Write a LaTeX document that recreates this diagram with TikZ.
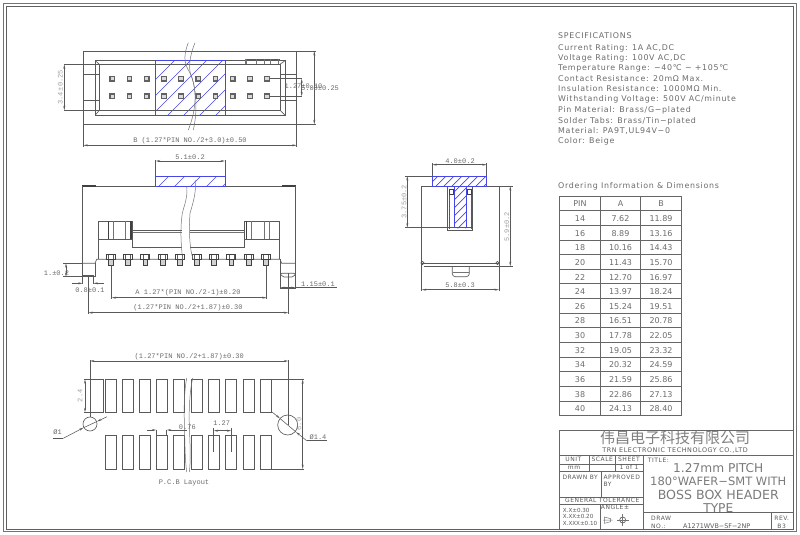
\documentclass[tikz,border=0pt]{standalone}
\usepackage{fontspec}
\usetikzlibrary{arrows.meta}
\newfontfamily\dimf{Liberation Mono}
\newfontfamily\specf{DejaVu Sans}
\newfontfamily\specw[LetterSpace=9]{DejaVu Sans}
\newfontfamily\cjkf{Noto Sans CJK SC}
\definecolor{hatchblue}{RGB}{70,70,230}
\tikzset{
  ln/.style={line width=0.65pt,draw=black!65},
  thin ln/.style={line width=0.5pt,draw=black!55},
  thick ln/.style={line width=1.1pt,draw=black!75},
  dimn/.style={line width=0.55pt,draw=black!65,{Stealth[length=4.5pt,width=2pt]}-{Stealth[length=4.5pt,width=2pt]}},
  tipend/.style={line width=0.55pt,draw=black!65,-{Stealth[length=4.5pt,width=2pt]}},
  ext/.style={line width=0.55pt,draw=black!65},
  hatch/.style={line width=0.7pt,draw=hatchblue},
  bluebox/.style={line width=0.9pt,draw=hatchblue},
  dimt/.style={font=\dimf\fontsize{7}{7}\selectfont,text=black!58,inner sep=0pt},
  greyt/.style={font=\dimf\fontsize{7}{7}\selectfont,text=black!38,inner sep=0pt,rotate=90},
  spect/.style={font=\specw\fontsize{7.9}{8}\selectfont,text=black!58,inner sep=0pt,anchor=west},
  tabt/.style={font=\specf\fontsize{8}{8}\selectfont,text=black!58,inner sep=0pt},
  tbsmall/.style={font=\specw\fontsize{6}{6}\selectfont,text=black!65,inner sep=0pt},
  tbbig/.style={font=\specf\fontsize{12.2}{13}\selectfont,text=black!52,inner sep=0pt},
  frameline/.style={line width=1pt,draw=black!62},
  frameouter/.style={line width=1pt,draw=black!55},
  tbl/.style={line width=0.8pt,draw=black!60},
  pintop/.style={draw=black!62,line width=1.2pt,fill=black!15,minimum size=4.6pt,inner sep=0pt},
  padn/.style={line width=0.65pt,draw=black!65}
}
\begin{document}
\begin{tikzpicture}[x=1pt,y=-1pt]
\useasboundingbox (0,0) rectangle (800,535);
% sheet frame
\draw[frameouter] (3,4) rectangle (796.7,531.7);
\draw[frameline] (6,6.5) rectangle (793.3,529);

%%%% TOP VIEW
\begin{scope}
\clip (155.7,60.7) rectangle (225,115);
\foreach \c in {235,251,267,283,299,315,331}
  \draw[hatch] ({\c-50},50) -- ({\c-130},130);
\end{scope}
\draw[ln] (83.3,51) rectangle (296.7,124.3);
\draw[ln] (95.3,60.7) rectangle (285,115);
\draw[ln] (99.3,64.3) rectangle (280,110.3);
\draw[bluebox] (155.7,60.7) rectangle (225,115);
\draw[ln] (95.3,60.7) -- (99.3,64.3) (285,60.7) -- (280,64.3) (95.3,115) -- (99.3,110.3) (285,115) -- (280,110.3);
\draw[ln] (84,74.3) -- (99.3,74.3) (84,100) -- (99.3,100);
\draw[ln] (280,74.3) -- (296.7,74.3) (280,100) -- (296.7,100);
\draw[ln] (245,59) -- (280,59);
\foreach \xx in {245,246.7,256.7,264,270.7,278.3}
  \draw[thin ln] (\xx,59) -- (\xx,64.3);
\foreach \i in {0,...,9}{
  \node[pintop] (pa\i) at ({112.3+17.2*\i},78.7) {};
  \node[pintop] (pb\i) at ({112.3+17.2*\i},96.3) {};
}
\draw[thin ln] (188.3,42.7) .. controls (184,54) and (183,62) .. (190,73) .. controls (197,88) and (197,108) .. (188.3,130);
\draw[thin ln] (195,42.7) .. controls (190,55) and (188,68) .. (191,75) .. controls (196,88) and (198,110) .. (193.3,130);
% top view dims
\draw[ext] (64.3,64.3) -- (99.3,64.3) (64.3,110.3) -- (143,110.3);
\draw[dimn] (64.3,64.3) -- (64.3,110.3);
\node[greyt] (t34) at (60.3,87.5) {3.4$\,$±0.25};
\draw[ext] (270,78.7) -- (302,78.7) (270,96.3) -- (302,96.3);
\draw[dimn] (301.7,78.7) -- (301.7,96.3);
\draw[ext] (296.7,51) -- (316,51) (296.7,124.3) -- (316,124.3);
\draw[dimn] (314.3,51) -- (314.3,124.3);
\node[dimt] (t127) at (303.5,86) {1.27±0.10};
\node[dimt] (t508) at (320,88.5) {5.08±0.25};
\draw[ext] (83.3,124.3) -- (83.3,147) (296.7,124.3) -- (296.7,147);
\draw[dimn] (83.3,145.3) -- (296.7,145.3);
\node[dimt] (tb) at (190,140.5) {B  (1.27*PIN NO./2+3.0)±0.50};

%%%% FRONT VIEW
\draw[ext] (155.7,160) -- (155.7,177) (225,160) -- (225,177);
\draw[dimn] (155.7,161) -- (225,161);
\node[dimt] (t51) at (190,157) {5.1±0.2};
\begin{scope}
\clip (155.7,176.7) rectangle (225,186.7);
\foreach \c in {345,361,377,393,409}
  \draw[hatch] ({\c-160},160) -- ({\c-200},200);
\end{scope}
\draw[bluebox] (155.7,176.7) rectangle (225,186.7);
\draw[ln] (82.3,186) -- (155.7,186) (225,186) -- (295.7,186);
\draw[thick ln] (82.3,186) -- (96,186) (281.7,186) -- (295.7,186);
\draw[ln] (82.3,186) -- (82.3,283);
\draw[ln] (295.7,186) -- (295.7,288);
% left foot
\draw[ln] (82.3,263.3) -- (95,263.3) -- (96.7,259.3) -- (182,259.3);
\draw[ln] (193,259.3) -- (280,259.3) -- (281.7,263.3) -- (295.7,263.3);
\draw[ln] (95,263.3) -- (95,276.7) -- (82.3,276.7);
\draw[ln] (83,275) -- (93,275);
% right tab
\draw[ln] (280,259.3) -- (280,288) -- (295.7,288);
\draw[ln,rounded corners=2pt] (280,273.3) -- (295.7,273.3) -- (294,277) -- (282,277) -- cycle;
% upper blocks
\draw[ln] (98.3,259.3) -- (98.3,221.3) -- (132.7,221.3) -- (132.7,247.7) -- (181.7,247.7);
\draw[ln] (190,247.7) -- (244,247.7) -- (244,221.3) -- (279.3,221.3) -- (279.3,259.3);
\draw[ln] (98.3,239.3) -- (132.7,239.3) (244,239.3) -- (279.3,239.3);
\foreach \xx in {113.3,125.7,251.7,269.3,264}
  \draw[thin ln] (\xx,221.3) -- (\xx,239.3);
\foreach \xx in {108.3,131,246.7}
  \draw[thick ln] (\xx,221.3) -- (\xx,239.3);
\draw[ln] (132.7,230) -- (181.7,230) (190,230) -- (244,230);
\draw[thin ln] (132.7,232) -- (181.7,232) (190,232) -- (244,232);
\foreach \i in {0,...,9}{
  \pgfmathsetmacro{\px}{111+17.2*\i}
  \draw[thick ln,line width=0.9pt,fill=white] (\px-4.5,254) rectangle (\px+4.5,259.5);
  \draw[thick ln,line width=1pt,fill=black!18] (\px-2.4,259.5) rectangle (\px+2.4,265);
  \draw[ln] (\px-2.5,254.5) -- (\px-2.5,259) (\px+2.5,254.5) -- (\px+2.5,259);
}
\draw[thin ln] (186.7,186.7) .. controls (188,197) and (184,206) .. (182.3,213.3) .. controls (180,228) and (181,245) .. (182.7,260);
\draw[thin ln] (195,180) .. controls (197,192) and (192,206) .. (190,213.3) .. controls (189,228) and (189,247) .. (193.3,260);
% front dims
\draw[ext] (63.3,263.3) -- (82.3,263.3) (63.3,276.7) -- (95,276.7);
\draw[dimn] (66,263.3) -- (66,276.7);
\node[dimt] (t1) at (56.5,272.7) {1.±0.2};
\draw[ext] (82.7,275) -- (82.7,283.5) (93.3,275) -- (93.3,283.5);
\draw[tipend] (71.7,283.3) -- (82.7,283.3);
\draw[tipend] (104,283.3) -- (93.3,283.3);
\node[dimt] (t08) at (90,290) {0.8±0.1};
\draw[dimn] (280,287.7) -- (295.7,287.7);
\draw[ext] (295.7,287.7) -- (336.7,287.7);
\node[dimt] (t115) at (318,284) {1.15±0.1};
\draw[ext] (111.7,265) -- (111.7,299) (266.7,265) -- (266.7,299);
\draw[dimn] (111.7,297.7) -- (266.7,297.7);
\node[dimt] (ta) at (188,293) {A  1.27*(PIN NO./2-1)±0.20};
\draw[ext] (88.3,275) -- (88.3,314) (288.3,273) -- (288.3,314);
\draw[dimn] (88.3,312.7) -- (288.3,312.7);
\node[dimt] (tc) at (188,308) {(1.27*PIN NO./2+1.87)±0.30};

%%%% PCB LAYOUT
\draw[dimn] (90,361) -- (288.3,361);
\node[dimt] (td) at (189.3,356.7) {(1.27*PIN NO./2+1.87)±0.30};
\draw[ext] (90,360) -- (90,417) (288.3,360) -- (288.3,425);
\foreach \i in {0,...,9}{
  \pgfmathsetmacro{\px}{105.3+17.1*\i+(\i>4?0.8:0)}
  \draw[padn] (\px,379.3) rectangle (\px+11,412.3);
  \draw[padn] (\px,435.7) rectangle (\px+11,469);
}
\draw[ln] (84.3,379.3) -- (103.3,379.3) -- (103.3,412.3) -- (84.3,412.3);
\draw[ln] (270.7,379.3) -- (304,379.3) (270.7,469) -- (304,469);
\draw[dimn] (85,379.3) -- (85,412.3);
\node[greyt] (t24) at (80,395.7) {2.4};
\draw[dimn] (302.7,379.3) -- (302.7,469);
\node[greyt] (t60) at (299,424) {6.0};
\draw[thin ln] (186.7,378) .. controls (184,392) and (184,410) .. (184.3,420) .. controls (185,445) and (185,460) .. (186.7,472);
\draw[thin ln] (192.7,378) .. controls (189,395) and (189,415) .. (189.3,425) .. controls (190,445) and (191,460) .. (189.3,472);
% holes
\draw[ln] (90,424) circle (7);
\draw[ln] (287.7,425) circle (10);
\draw[ext] (53,438.3) -- (63.3,438.3);
\draw[tipend] (63.3,438.3) -- (83.5,427.7);
\draw[tipend] (107,416.7) -- (97,421.5);
\draw[ext] (83.5,427.7) -- (97,421.5);
\node[dimt] (tp1) at (57.7,432.5) {Ø1};
\draw[ext] (306.7,440.7) -- (326.7,440.7);
\draw[tipend] (306.7,440.7) -- (296,432);
\draw[tipend] (271.7,411.7) -- (280,418.5);
\draw[ext] (280,418.5) -- (296,432);
\node[dimt] (tp14) at (318,437.3) {Ø1.4};
% small dims
\draw[ext] (156.3,430) -- (156.3,435.7) (166.7,430) -- (166.7,435.7);
\draw[tipend] (146.7,430) -- (156.3,430);
\draw[tipend] (186.7,430) -- (166.7,430);
\node[dimt] (t076) at (187.3,427) {0.76};
\draw[ext] (213.7,428) -- (213.7,451.7) (231.3,428) -- (231.3,451.7);
\draw[dimn] (213.7,430.7) -- (231.3,430.7);
\node[dimt] (t127b) at (221.7,423.3) {1.27};
\node[dimt] (tpcb) at (184,483.3) {P.C.B Layout};

%%%% SIDE VIEW
\draw[ext] (432.3,163) -- (432.3,177) (486.7,163) -- (486.7,177);
\draw[dimn] (432.3,164.7) -- (486.7,164.7);
\node[dimt] (t40) at (460,161) {4.0±0.2};
\begin{scope}
\clip (432.3,176) rectangle (486.7,186.7) (454.3,186.7) rectangle (466.7,228.3);
\foreach \c in {590,598,...,726}
  \draw[hatch] ({\c-170},170) -- ({\c-235},235);
\end{scope}
\draw[bluebox] (432.3,176) rectangle (486.7,186.7);
\draw[bluebox] (454.3,186.7) -- (454.3,228.3) (466.7,186.7) -- (466.7,228.3);
\draw[ln] (421.7,186) -- (432.3,186) (486.7,186) -- (499,186) -- (499,263.3);
\draw[ln] (421.7,186) -- (421.7,263.3);
\draw[ln] (447.3,186.7) -- (447.3,230) -- (472.7,230) -- (472.7,186.7);
\draw[bluebox] (449,194) -- (449,229) (471.7,194) -- (471.7,229);
\draw[thick ln,line width=0.9pt] (449.5,189) rectangle (453.5,194) (467,189) rectangle (471,194);
\draw[ln] (447.3,227.7) -- (472.7,227.7);
\draw[ln] (421.7,263.3) -- (499,263.3);
\draw[ln] (424,266.7) -- (497,266.7);
\draw[ln] (421.7,263.3) -- (421.7,291) (499,263.3) -- (499,291);
\draw[ln] (422.5,263) circle (1.6) (497.5,263) circle (1.6);
\draw[ln,rounded corners=3pt] (452.3,266.7) -- (452.3,276.7) -- (469.3,276.7) -- (469.3,266.7);
\draw[thin ln] (453,272.7) -- (469,272.7);
\draw[dimn] (421.7,289.7) -- (499,289.7);
\node[dimt] (t58) at (460,285) {5.8±0.3};
\draw[ext] (405,176) -- (432.3,176) (405,227.7) -- (447.3,227.7);
\draw[dimn] (407.3,176) -- (407.3,227.7);
\node[greyt] (t375) at (404,201.7) {3.75±0.2};
\draw[ext] (499,186) -- (513,186) (472,266.3) -- (513,266.3);
\draw[dimn] (510.3,186) -- (510.3,266.3);
\node[greyt] (t59) at (506.7,226.7) {5.9±0.2};

%%%% SPECIFICATIONS
\node[spect] (s0) at (558,36) {SPECIFICATIONS};
\node[spect] (s1) at (558,48.7) {Current Rating:  1A  AC,DC};
\node[spect] (s2) at (558,58.7) {Voltage Rating:  100V  AC,DC};
\node[spect] (s3) at (558,68.3) {Temperature Range:  −40℃ ∼ +105℃};
\node[spect] (s4) at (558,78.3) {Contact Resistance:  20mΩ  Max.};
\node[spect] (s5) at (558,88.3) {Insulation Resistance:  1000MΩ  Min.};
\node[spect] (s6) at (558,99) {Withstanding Voltage:  500V  AC/minute};
\node[spect] (s7) at (558,110) {Pin Material:  Brass/G−plated};
\node[spect] (s8) at (558,121) {Solder Tabs:  Brass/Tin−plated};
\node[spect] (s9) at (558,131) {Material:  PA9T,UL94V−0};
\node[spect] (s10) at (558,141) {Color:  Beige};
\node[spect] (s11) at (558,186.3) {Ordering Information \& Dimensions};

%%%% TABLE
\foreach \xx in {559.3,600.3,640.7,681.7}
  \draw[tbl] (\xx,196) -- (\xx,415.7);
\foreach \r in {0,...,15}
  \draw[tbl] (559.3,{196+14.647*\r}) -- (681.7,{196+14.647*\r});
\node[tabt] (h1) at (580,203.5) {PIN};
\node[tabt] (h2) at (620.5,203.5) {A};
\node[tabt] (h3) at (661,203.5) {B};
\foreach \p/\a/\b [count=\n from 0] in {14/7.62/11.89,16/8.89/13.16,18/10.16/14.43,20/11.43/15.70,22/12.70/16.97,24/13.97/18.24,26/15.24/19.51,28/16.51/20.78,30/17.78/22.05,32/19.05/23.32,34/20.32/24.59,36/21.59/25.86,38/22.86/27.13,40/24.13/28.40}{
  \node[tabt] (rp\n) at (580,{218.5+14.647*\n}) {\p};
  \node[tabt] (ra\n) at (620.5,{218.5+14.647*\n}) {\a};
  \node[tabt] (rb\n) at (661,{218.5+14.647*\n}) {\b};
}

%%%% TITLE BLOCK
\draw[tbl] (559.3,430) -- (793.3,430) (559.3,430) -- (559.3,529);
\draw[tbl] (559.3,455) -- (793.3,455);
\draw[tbl] (643,455) -- (643,529);
\draw[tbl] (559.3,464) -- (643,464) (559.3,471) -- (643,471) (559.3,497.3) -- (643,497.3) (559.3,504) -- (643,504);
\draw[tbl] (589,455) -- (589,471) (615.7,455) -- (615.7,471) (601.7,471) -- (601.7,497.3) (600.7,504) -- (600.7,529);
\draw[tbl] (643,512.7) -- (793.3,512.7) (771.7,512.7) -- (771.7,529);
\node[font=\cjkf\fontsize{15}{15}\selectfont,text=black!50,inner sep=0pt] (co) at (675,437.7) {伟昌电子科技有限公司};
\node[font=\specw\fontsize{6.4}{7}\selectfont,text=black!65,inner sep=0pt] (trn) at (675,450.7) {TRN ELECTRONIC TECHNOLOGY CO.,LTD};
\node[tbsmall] (u1) at (573.3,459.3) {UNIT};
\node[tbsmall] (u2) at (602.3,459.3) {SCALE};
\node[tbsmall] (u3) at (629,459.3) {SHEET};
\node[tbsmall] (u4) at (574,467.5) {mm};
\node[tbsmall] (u5) at (629,467.5) {1 of 1};
\node[tbsmall,anchor=west] (u6) at (562.3,477) {DRAWN BY};
\node[tbsmall,anchor=west] (u7) at (603.3,477.3) {APPROVED};
\node[tbsmall,anchor=west] (u8) at (603.3,484.5) {BY};
\node[tbsmall,anchor=west] (u9) at (565,500.7) {GENERAL  TOLERANCE};
\node[tbsmall] (u10) at (615,507.5) {ANGLE±};
\node[tbsmall,anchor=west,font=\specf\fontsize{5.6}{6}\selectfont] (u11) at (562.7,510) {X.X±0.30};
\node[tbsmall,anchor=west,font=\specf\fontsize{5.6}{6}\selectfont] (u12) at (562.7,516.7) {X.XX±0.20};
\node[tbsmall,anchor=west,font=\specf\fontsize{5.6}{6}\selectfont] (u13) at (562.7,523.7) {X.XXX±0.10};
\draw[thin ln] (604.3,517) -- (610.7,518.7) -- (610.7,521.7) -- (604.3,523.3) -- cycle (603,520) -- (612.5,520);
\draw[ln] (622.7,520) circle (3);
\draw[thin ln] (616.5,520) -- (629,520) (622.7,514) -- (622.7,526);
\node[tbsmall,anchor=west] (v1) at (647.7,460) {TITLE:};
\node[tbbig] (v2) at (718.3,468.3) {1.27mm PITCH};
\node[tbbig,font=\specf\fontsize{11.5}{13}\selectfont] (v3) at (718.3,481.5) {180°WAFER−SMT WITH};
\node[tbbig,font=\specf\fontsize{12.6}{13}\selectfont] (v4) at (718.3,495) {BOSS BOX HEADER};
\node[tbbig] (v5) at (718.3,508.3) {TYPE};
\node[tbsmall,anchor=west] (v6) at (651,518.7) {DRAW};
\node[tbsmall,anchor=west] (v7) at (651,526.5) {NO.:};
\node[tbsmall,font=\specf\fontsize{6.4}{7}\selectfont] (v8) at (716.7,525.7) {A1271WVB−SF−2NP};
\node[tbsmall] (v9) at (781.7,518.7) {REV.};
\node[tbsmall] (v10) at (781.7,526) {B3};
\end{tikzpicture}
\end{document}
